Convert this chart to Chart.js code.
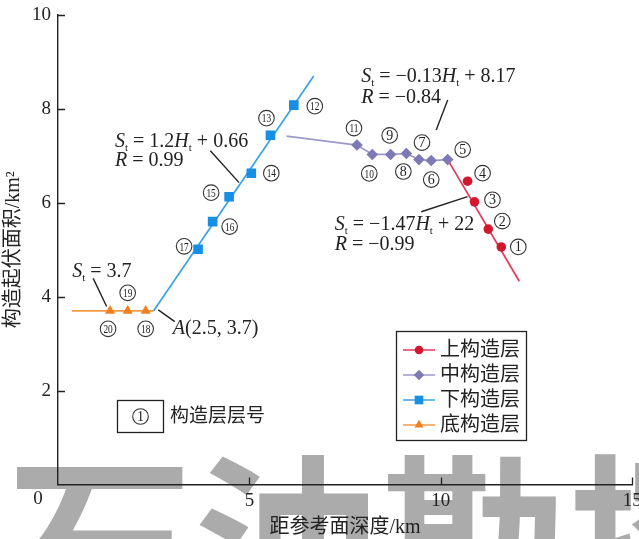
<!DOCTYPE html>
<html>
<head>
<meta charset="utf-8">
<script src="https://cdn.jsdelivr.net/npm/chart.js@4"></script>
<style>
  html, body { margin: 0; padding: 0; background: #fff; }
  #wrap { width: 639px; height: 539px; }
</style>
</head>
<body>
<div id="wrap"><canvas id="c" width="639" height="539"></canvas></div>
<script>
// ---- data -------------------------------------------------------------
const layerNames = ['上构造层', '中构造层', '下构造层', '底构造层'];

// 上构造层 (layers 1-4)
const upperNo = [1, 2, 3, 4];
const upperX = [11.58, 11.24, 10.88, 10.70];
const upperY = [5.06, 5.44, 6.02, 6.46];
const upperLineX = [10.18, 12.05];
const upperLineY = [6.92, 4.33];

// 中构造层 (layers 5-11)
const middleNo = [5, 6, 7, 8, 9, 10, 11];
const middleX = [10.18, 9.75, 9.43, 9.10, 8.69, 8.21, 7.81];
const middleY = [6.92, 6.90, 6.92, 7.05, 7.03, 7.03, 7.23];
const middleLineX = [5.97, 7.81];
const middleLineY = [7.42, 7.23];

// 下构造层 (layers 12-17)
const lowerNo = [12, 13, 14, 15, 16, 17];
const lowerX = [6.16, 5.55, 5.05, 4.47, 4.04, 3.66];
const lowerY = [8.08, 7.44, 6.63, 6.13, 5.60, 5.01];
const lowerLineX = [2.5, 6.68];
const lowerLineY = [3.7, 8.70];

// 底构造层 (layers 18-20)
const baseNo = [18, 19, 20];
const baseX = [2.29, 1.82, 1.36];
const baseY = [3.7, 3.7, 3.7];
const baseLineX = [0.36, 2.5];
const baseLineY = [3.7, 3.7];

const xTicks = [0, 5, 10, 15];
const yTicks = [0, 2, 4, 6, 8, 10];

// ---- styles -----------------------------------------------------------
const SERIF = '"Liberation Serif", "Times New Roman", "Noto Sans CJK SC", serif';
const INK = '#222';
const layerStyles = [
  { marker: '#d3172e', line: '#e23a5c', pointStyle: 'circle',   radius: 4.8 },
  { marker: '#7d79b5', line: '#9c98cc', pointStyle: 'rectRot',  radius: 5.8 },
  { marker: '#168fe4', line: '#3aa3e3', pointStyle: 'rect',     radius: 6.8 },
  { marker: '#f07f1c', line: '#f39a45', pointStyle: 'triangle', radius: 5.8 }
];

const zip = (xs, ys) => xs.map((x, i) => ({ x: x, y: ys[i] }));

const layers = [
  { no: upperNo,  pts: zip(upperX, upperY),   line: zip(upperLineX, upperLineY),   joinPoints: false },
  { no: middleNo, pts: zip(middleX, middleY), line: zip(middleLineX, middleLineY), joinPoints: true },
  { no: lowerNo,  pts: zip(lowerX, lowerY),   line: zip(lowerLineX, lowerLineY),   joinPoints: false },
  { no: baseNo,   pts: zip(baseX, baseY),     line: zip(baseLineX, baseLineY),     joinPoints: false }
];

// point datasets first (drawn on top), trend lines afterwards (drawn beneath)
const datasets = [];
layers.forEach((L, i) => {
  const s = layerStyles[i];
  datasets.push({
    label: layerNames[i],
    data: L.pts,
    showLine: L.joinPoints,
    borderColor: s.line,
    borderWidth: 1.7,
    backgroundColor: s.marker,
    pointBackgroundColor: s.marker,
    pointBorderWidth: 0,
    pointStyle: s.pointStyle,
    pointRadius: s.radius,
    layerNo: L.no
  });
});
layers.forEach((L, i) => {
  const s = layerStyles[i];
  datasets.push({
    label: layerNames[i] + ' trend',
    data: L.line,
    showLine: true,
    borderColor: s.line,
    borderWidth: 1.7,
    pointRadius: 0,
    isTrend: true
  });
});

// ---- annotation layout (data coordinates) ------------------------------
const labelOffsets = {
  1: [17, 0], 2: [14, -8], 3: [18, -2], 4: [15, -8], 5: [15, -10],
  6: [0, 19], 7: [3, -17], 8: [-3, 18], 9: [-1, -19], 10: [-3, 19], 11: [-3, -17],
  12: [21, 1], 13: [-4, -17], 14: [20, 0], 15: [-18, -4], 16: [17, 5], 17: [-14, -3],
  18: [0, 18], 19: [0, -18], 20: [-2, 18]
};

const equations = [
  { x: 1.49, y: 7.19, parts: [['S', 'i'], ['t', 'sub'], [' = 1.2', ''], ['H', 'i'], ['t', 'sub'], [' + 0.66', '']] },
  { x: 1.49, y: 6.78, parts: [['R', 'i'], [' = 0.99', '']] },
  { x: 7.92, y: 8.58, parts: [['S', 'i'], ['t', 'sub'], [' = \u22120.13', ''], ['H', 'i'], ['t', 'sub'], [' + 8.17', '']] },
  { x: 7.92, y: 8.13, parts: [['R', 'i'], [' = \u22120.84', '']] },
  { x: 7.23, y: 5.42, parts: [['S', 'i'], ['t', 'sub'], [' = \u22121.47', ''], ['H', 'i'], ['t', 'sub'], [' + 22', '']] },
  { x: 7.23, y: 5.00, parts: [['R', 'i'], [' = \u22120.99', '']] },
  { x: 0.37, y: 4.42, parts: [['S', 'i'], ['t', 'sub'], [' = 3.7', '']] },
  { x: 3.00, y: 3.21, parts: [['A', 'i'], ['(2.5, 3.7)', '']] }
];

const leaders = [
  [3.98, 7.11, 4.73, 6.43],
  [10.18, 8.19, 9.88, 7.55],
  [9.49, 5.81, 10.70, 6.13],
  [0.92, 4.39, 1.27, 3.79],
  [2.62, 3.72, 3.05, 3.47]
];

// ---- helpers ----------------------------------------------------------
function circledNumber(ctx, x, y, n) {
  ctx.save();
  ctx.beginPath();
  ctx.arc(x, y, 7.8, 0, Math.PI * 2);
  ctx.lineWidth = 1.1;
  ctx.strokeStyle = '#333';
  ctx.stroke();
  ctx.fillStyle = '#222';
  ctx.textAlign = 'center';
  ctx.textBaseline = 'middle';
  if (n >= 10) {
    ctx.font = '13px ' + SERIF;
    ctx.translate(x, y + 0.8);
    ctx.scale(0.72, 1);
    ctx.fillText(String(n), 0, 0);
  } else {
    ctx.font = '14px ' + SERIF;
    ctx.fillText(String(n), x, y + 0.8);
  }
  ctx.restore();
}

function drawRich(ctx, x, y, parts) {
  ctx.save();
  ctx.fillStyle = INK;
  ctx.textAlign = 'left';
  ctx.textBaseline = 'alphabetic';
  let cx = x;
  parts.forEach(([txt, kind]) => {
    let dy = 0;
    if (kind === 'i') ctx.font = 'italic 20px ' + SERIF;
    else if (kind === 'sub') { ctx.font = '11px ' + SERIF; dy = 4; }
    else ctx.font = '20px ' + SERIF;
    ctx.fillText(txt, cx, y + dy);
    cx += ctx.measureText(txt).width;
  });
  ctx.restore();
}

// ---- plugins ----------------------------------------------------------
const backdrop = {
  id: 'backdrop',
  beforeDraw(chart) {
    const ctx = chart.ctx;
    ctx.save();
    ctx.fillStyle = '#fff';
    ctx.fillRect(0, 0, chart.width, chart.height);
    ctx.fillStyle = '#ababab';
    ctx.font = 'bold 187px "Noto Sans CJK SC", sans-serif';
    ctx.textAlign = 'left';
    ctx.textBaseline = 'alphabetic';
    ctx.fillText('石油勘探', 6, 614);
    ctx.restore();
  }
};

const axisTicks = {
  id: 'axisTicks',
  afterDraw(chart) {
    const ctx = chart.ctx;
    const xs = chart.scales.x, ys = chart.scales.y;
    ctx.save();
    ctx.strokeStyle = INK;
    ctx.lineWidth = 1.3;
    ctx.beginPath();
    yTicks.filter(v => v > 0).forEach(v => {
      const py = Math.round(ys.getPixelForValue(v)) + 0.5;
      ctx.moveTo(xs.left, py);
      ctx.lineTo(xs.left + 7, py);
    });
    xTicks.filter(v => v > 0).forEach(v => {
      const px = Math.round(xs.getPixelForValue(v)) + 0.5;
      ctx.moveTo(px, ys.bottom);
      ctx.lineTo(px, ys.bottom - 7);
    });
    ctx.stroke();
    // shared origin label
    ctx.fillStyle = INK;
    ctx.font = '19px ' + SERIF;
    ctx.textAlign = 'center';
    ctx.textBaseline = 'middle';
    ctx.fillText(String(xTicks[0]), xs.left - 20, ys.bottom + 15);
    ctx.restore();
  }
};

const notes = {
  id: 'notes',
  afterDatasetsDraw(chart) {
    const ctx = chart.ctx;
    const xs = chart.scales.x, ys = chart.scales.y;
    const X = v => xs.getPixelForValue(v), Y = v => ys.getPixelForValue(v);

    // leader lines
    ctx.save();
    ctx.strokeStyle = '#222';
    ctx.lineWidth = 1.4;
    leaders.forEach(([x1, y1, x2, y2]) => {
      ctx.beginPath();
      ctx.moveTo(X(x1), Y(y1));
      ctx.lineTo(X(x2), Y(y2));
      ctx.stroke();
    });
    ctx.restore();

    // fitted equations
    equations.forEach(e => drawRich(ctx, X(e.x), Y(e.y), e.parts));

    // layer numbers next to each point
    chart.data.datasets.forEach((ds, di) => {
      if (!ds.layerNo) return;
      const meta = chart.getDatasetMeta(di);
      meta.data.forEach((el, k) => {
        const n = ds.layerNo[k];
        const off = labelOffsets[n] || [12, 0];
        circledNumber(ctx, el.x + off[0], el.y + off[1], n);
      });
    });

    // key for the layer number symbol
    ctx.save();
    ctx.strokeStyle = '#222';
    ctx.lineWidth = 1.3;
    ctx.strokeRect(117.5, 400.5, 46, 32);
    ctx.restore();
    circledNumber(ctx, 140.5, 416.5, 1);
    ctx.save();
    ctx.fillStyle = INK;
    ctx.font = '19px ' + SERIF;
    ctx.textAlign = 'left';
    ctx.textBaseline = 'middle';
    ctx.fillText('构造层层号', 170, 417);
    ctx.restore();

    // series legend
    const bx = 396.5, by = 331.5, bw = 130, bh = 109;
    ctx.save();
    ctx.strokeStyle = '#222';
    ctx.lineWidth = 1.3;
    ctx.strokeRect(bx, by, bw, bh);
    chart.data.datasets.filter(d => d.layerNo).forEach((ds, i) => {
      const s = layerStyles[i];
      const ry = 350 + i * 25;
      ctx.strokeStyle = s.line;
      ctx.lineWidth = 1.5;
      ctx.beginPath();
      ctx.moveTo(403, ry);
      ctx.lineTo(435, ry);
      ctx.stroke();
      ctx.fillStyle = s.marker;
      Chart.helpers.drawPoint(ctx, { pointStyle: s.pointStyle, radius: s.radius * 0.9, rotation: 0, borderWidth: 0 }, 419, ry);
      ctx.fillStyle = INK;
      ctx.font = '20px ' + SERIF;
      ctx.textAlign = 'left';
      ctx.textBaseline = 'middle';
      ctx.fillText(ds.label, 440, ry + 1);
    });
    ctx.restore();
  }
};

// ---- chart ------------------------------------------------------------
new Chart(document.getElementById('c'), {
  type: 'scatter',
  data: { datasets: datasets },
  plugins: [backdrop, axisTicks, notes],
  options: {
    responsive: false,
    animation: false,
    devicePixelRatio: 1,
    layout: { padding: { top: 15, right: 6, left: 0, bottom: 0 } },
    plugins: { legend: { display: false }, tooltip: { enabled: false } },
    scales: {
      x: {
        type: 'linear',
        min: 0, max: 15,
        afterBuildTicks: s => { s.ticks = xTicks.map(v => ({ value: v })); },
        afterFit: s => { s.height = 54.5; s.paddingLeft = 0; s.paddingRight = 0; },
        grid: { display: false, drawTicks: false },
        border: { display: true, color: INK, width: 1.4 },
        ticks: {
          padding: 5,
          color: INK,
          font: { family: SERIF, size: 19 },
          maxRotation: 0,
          autoSkip: false,
          callback: v => (v === 0 ? '' : String(v))
        },
        title: {
          display: true,
          text: '距参考面深度/km',
          color: INK,
          font: { family: SERIF, size: 20 },
          padding: { top: 0, bottom: -1 }
        }
      },
      y: {
        type: 'linear',
        min: 0, max: 10,
        afterBuildTicks: s => { s.ticks = yTicks.map(v => ({ value: v })); },
        afterFit: s => { s.width = 58; s.paddingTop = 0; s.paddingBottom = 0; },
        grid: { display: false, drawTicks: false },
        border: { display: true, color: INK, width: 1.4 },
        ticks: {
          padding: 7,
          color: INK,
          font: { family: SERIF, size: 19 },
          autoSkip: false,
          callback: v => (v === 0 ? '' : String(v))
        },
        title: {
          display: true,
          text: '构造起伏面积/km²',
          color: INK,
          font: { family: SERIF, size: 20 },
          padding: { top: 2, bottom: 0 }
        }
      }
    }
  }
});
</script>
</body>
</html>
